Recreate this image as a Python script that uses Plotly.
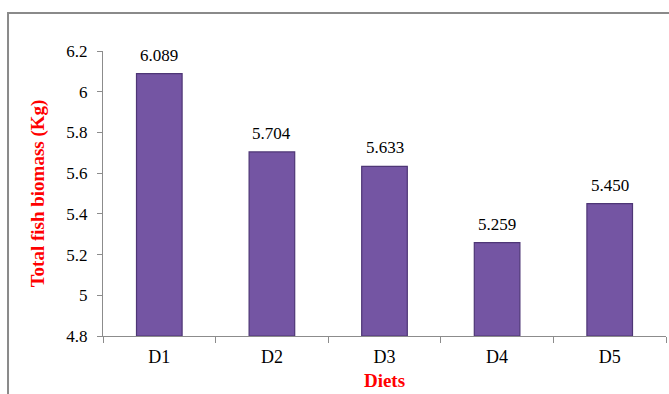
import plotly.graph_objects as go

diets = ["D1", "D2", "D3", "D4", "D5"]
biomass = [6.089, 5.704, 5.633, 5.259, 5.450]
labels = ["6.089", "5.704", "5.633", "5.259", "5.450"]
y_ticks = [4.8, 5.0, 5.2, 5.4, 5.6, 5.8, 6.0, 6.2]
y_tick_text = ["4.8", "5", "5.2", "5.4", "5.6", "5.8", "6", "6.2"]
y_min = 4.8

SERIF = "Liberation Serif, Times New Roman, serif"

fig = go.Figure()
fig.add_trace(go.Bar(
    x=diets, y=[v - y_min for v in biomass],
    base=y_min,
    marker=dict(color="#7455A3", line=dict(color="#4E3676", width=1.2)),
    showlegend=False, hoverinfo="skip",
))

for d, v, t in zip(diets, biomass, labels):
    fig.add_annotation(x=d, y=v, text=t, showarrow=False, yanchor="bottom",
                       yshift=7, font=dict(family=SERIF, size=17, color="#000"))

fig.update_layout(
    width=669, height=394,
    margin=dict(l=103, r=3, t=51, b=58),
    paper_bgcolor="white", plot_bgcolor="white",
    bargap=0.595,
    font=dict(family=SERIF, size=17, color="#000"),
    xaxis=dict(
        showline=True, linecolor="#8c8c8c", linewidth=1,
        ticks="outside", tickson="boundaries", ticklen=6, tickcolor="#8c8c8c",
        showgrid=False, ticklabelstandoff=4,
        title=dict(text="<b>Diets</b>", font=dict(family=SERIF, size=19, color="#ff0000"), standoff=8),
        tickfont=dict(family=SERIF, size=18, color="#000"),
    ),
    yaxis=dict(
        range=[4.8, 6.2],
        tickvals=y_ticks, ticktext=y_tick_text,
        showline=True, linecolor="#8c8c8c", linewidth=1,
        ticks="outside", ticklen=5, tickcolor="#8c8c8c",
        showgrid=False, zeroline=False, ticklabelstandoff=6,
        title=dict(text="<b>Total fish biomass (Kg)</b>", font=dict(family=SERIF, size=19, color="#ff0000"), standoff=16),
        tickfont=dict(family=SERIF, size=17, color="#000"),
    ),
)

fig.add_shape(type="rect", xref="paper", yref="paper",
              x0=-0.1687, x1=1.2, y0=-0.4, y1=1.1333,
              line=dict(color="#8a8a8a", width=2), fillcolor="rgba(0,0,0,0)", layer="below")

fig.write_html("out.html")
